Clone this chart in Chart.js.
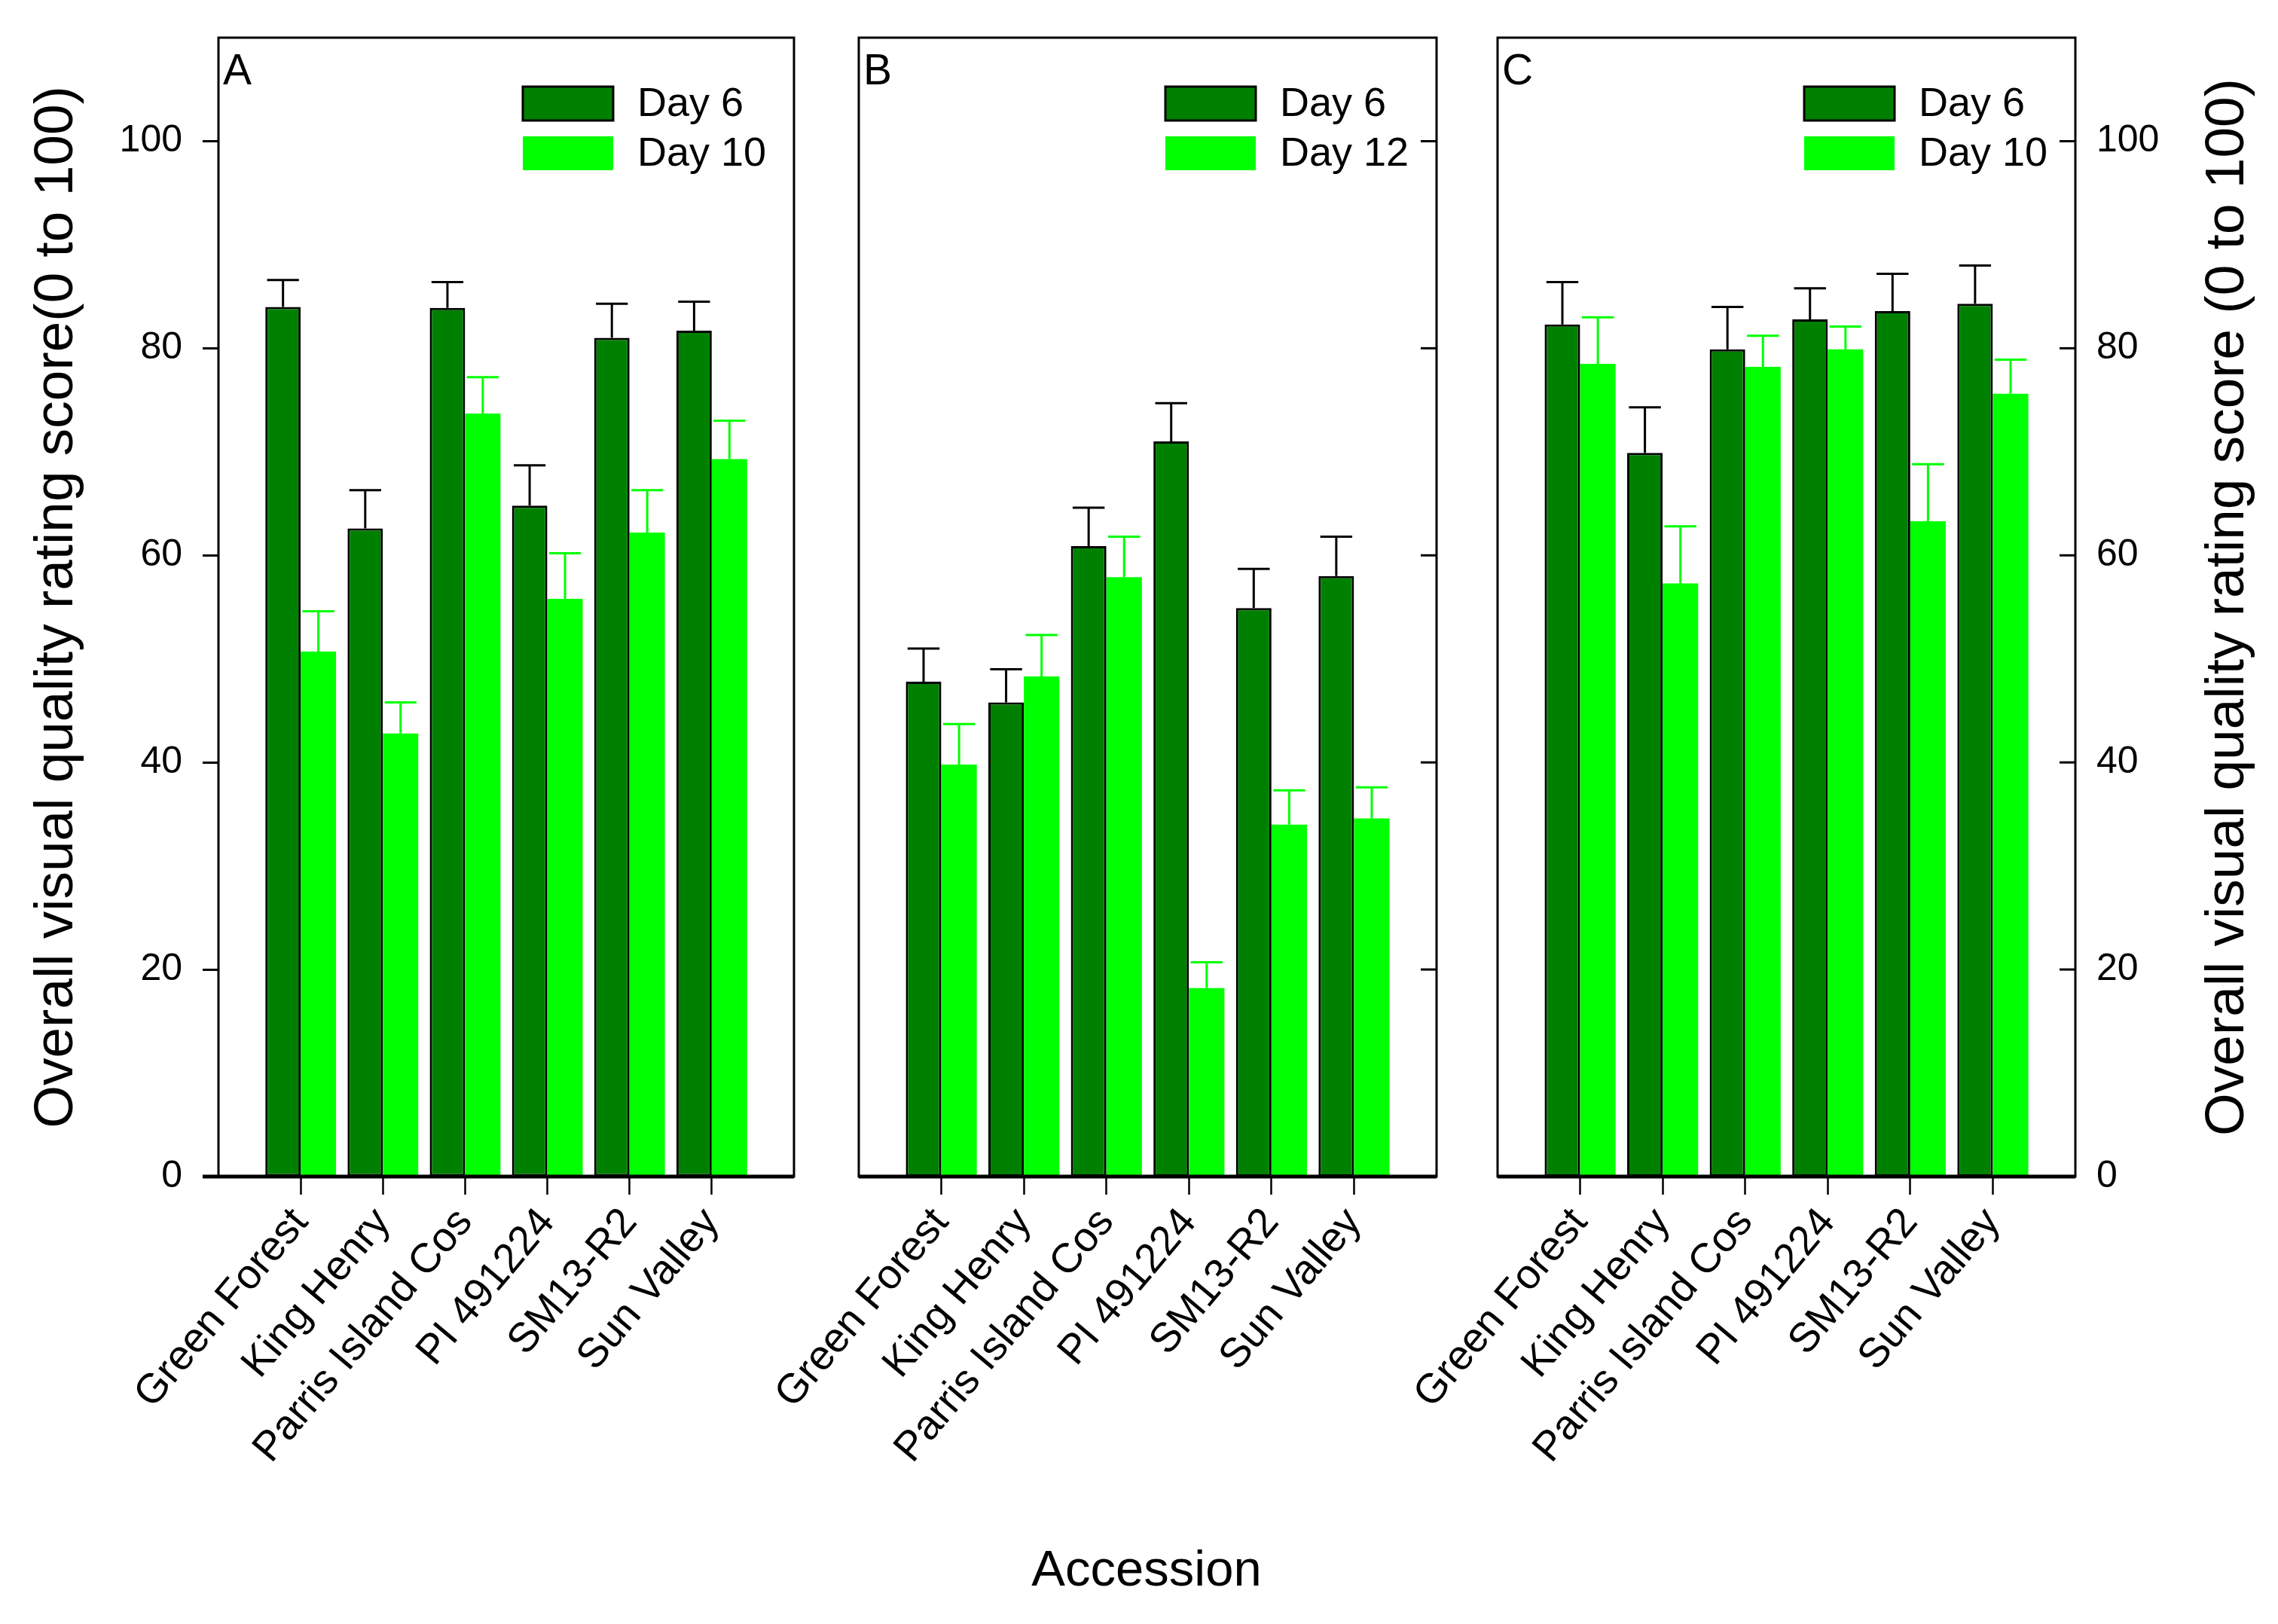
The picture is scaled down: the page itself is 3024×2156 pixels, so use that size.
<!DOCTYPE html>
<html>
<head>
<meta charset="utf-8">
<script src="https://cdn.jsdelivr.net/npm/chart.js@4.4.1/dist/chart.umd.min.js"></script>
<style>
  html, body { margin: 0; padding: 0; background: #fff; }
  #wrap { position: relative; width: 3024px; height: 2156px; overflow: hidden; }
  #wrap canvas { position: absolute; left: 0; top: 0; }
  #xtitle { position: absolute; left: 0; width: 3044px; top: 2048px; text-align: center;
            font: 67px 'Liberation Sans', Arial, sans-serif; line-height: 67px; color: #000; }
</style>
</head>
<body>
<div id="wrap">
  <canvas id="chartA" width="3024" height="2156"></canvas>
  <canvas id="chartB" width="3024" height="2156"></canvas>
  <canvas id="chartC" width="3024" height="2156"></canvas>
  <div id="xtitle">Accession</div>
</div>
<script>
const accessions = ['Green Forest', 'King Henry', 'Parris Island Cos', 'PI 491224', 'SM13-R2', 'Sun Valley'];
const yTicks = [0, 20, 40, 60, 80, 100];

// panel A
const aDay6 = [84.0, 62.6, 83.9, 64.8, 81.0, 81.7];
const aDay6Err = [2.6, 3.7, 2.5, 3.9, 3.3, 2.8];
const aDay10 = [50.7, 42.8, 73.7, 55.8, 62.2, 69.3];
const aDay10Err = [3.9, 3.0, 3.5, 4.4, 4.1, 3.7];

// panel B
const bDay6 = [47.8, 45.8, 60.9, 71.0, 54.9, 58.0];
const bDay6Err = [3.2, 3.2, 3.7, 3.7, 3.8, 3.8];
const bDay12 = [39.8, 48.3, 57.9, 18.2, 34.0, 34.6];
const bDay12Err = [3.9, 4.0, 3.9, 2.5, 3.3, 3.0];

// panel C
const cDay6 = [82.3, 69.9, 79.9, 82.8, 83.6, 84.3];
const cDay6Err = [4.1, 4.4, 4.1, 3.0, 3.6, 3.7];
const cDay10 = [78.5, 57.3, 78.2, 79.9, 63.3, 75.6];
const cDay10Err = [4.5, 5.5, 3.0, 2.2, 5.5, 3.3];

const FONT = "'Liberation Sans', Arial, sans-serif";
const DARK = '#008000';
const LIGHT = '#00ff00';
const YTITLE_L = 'Overall visual quality rating score(0 to 100)';
const YTITLE_R = 'Overall visual quality rating score (0 to 100)';

Chart.defaults.font.family = FONT;
Chart.defaults.color = '#000';

// blank slot at each end so the groups sit at 1..6 on a 0..7 axis
const xLabels = [''].concat(accessions, ['']);
const pad = arr => [null].concat(arr, [null]);

// frame, inner ticks, error bars, legend, panel letter
const panelDeco = {
  id: 'panelDeco',
  afterDatasetsDraw(chart) {
    const ctx = chart.ctx;
    const y = chart.scales.y;
    chart.data.datasets.forEach((ds, i) => {
      const meta = chart.getDatasetMeta(i);
      ctx.save();
      ctx.strokeStyle = ds.errColor;
      ctx.lineWidth = ds.errWidth;
      meta.data.forEach((bar, j) => {
        const v = ds.data[j];
        if (v === null) return;
        const { x, width } = bar.getProps(['x', 'width'], true);
        const yTop = y.getPixelForValue(v + ds.errors[j - 1]);
        const yBar = y.getPixelForValue(v);
        const cw = width * 0.9;
        ctx.beginPath();
        ctx.moveTo(x, yBar);
        ctx.lineTo(x, yTop);
        ctx.moveTo(x - cw / 2, yTop);
        ctx.lineTo(x + cw / 2, yTop);
        ctx.stroke();
      });
      ctx.restore();
    });
  },
  afterDraw(chart, args, opts) {
    const ctx = chart.ctx;
    const a = chart.chartArea;
    const y = chart.scales.y;
    ctx.save();
    ctx.strokeStyle = '#000';
    ctx.lineWidth = 3;
    ctx.strokeRect(a.left, a.top, a.right - a.left, a.bottom - a.top);
    ctx.lineWidth = 5;
    ctx.beginPath();
    ctx.moveTo(a.left - (opts.extendLeft || 0), a.bottom);
    ctx.lineTo(a.right, a.bottom);
    ctx.stroke();

    if (opts.innerRightTicks) {
      ctx.lineWidth = 3;
      yTicks.forEach(v => {
        const py = y.getPixelForValue(v);
        ctx.beginPath();
        ctx.moveTo(a.right - 21, py);
        ctx.lineTo(a.right, py);
        ctx.stroke();
      });
    }

    // legend
    const boxR = a.right - 240, boxW = 120, boxH = 45;
    ctx.font = '54px ' + FONT;
    ctx.textAlign = 'left';
    ctx.textBaseline = 'middle';
    chart.data.datasets.forEach((ds, i) => {
      const top = a.top + 65 + i * 66;
      ctx.fillStyle = ds.backgroundColor;
      ctx.fillRect(boxR - boxW, top, boxW, boxH);
      if (ds.borderWidth) {
        ctx.lineWidth = 3;
        ctx.strokeStyle = '#000';
        ctx.strokeRect(boxR - boxW, top, boxW, boxH);
      }
      ctx.fillStyle = '#000';
      ctx.fillText(ds.label, boxR + 32, top + boxH / 2 + 2);
    });

    // panel letter
    ctx.font = '57px ' + FONT;
    ctx.textBaseline = 'alphabetic';
    ctx.fillText(opts.letter, a.left + 6, a.top + 62);

    if (opts.rightTitle) {
      ctx.translate(chart.width - 66, (a.top + a.bottom) / 2);
      ctx.rotate(-Math.PI / 2);
      ctx.textAlign = 'center';
      ctx.textBaseline = 'middle';
      ctx.font = '73px ' + FONT;
      ctx.fillText(opts.rightTitle, 0, 0);
    }
    ctx.restore();
  }
};

function makeDatasets(label1, v1, e1, label2, v2, e2) {
  return [
    { label: label1, data: pad(v1), errors: e1, backgroundColor: DARK, borderColor: '#000',
      borderWidth: 3, borderSkipped: false, errColor: '#000', errWidth: 3 },
    { label: label2, data: pad(v2), errors: e2, backgroundColor: LIGHT, borderWidth: 0,
      errColor: LIGHT, errWidth: 3 }
  ];
}

function xScale() {
  return {
    type: 'category',
    offset: false,
    grid: {
      display: true, offset: false, drawOnChartArea: false, drawTicks: true,
      tickLength: 24, tickWidth: 2.5,
      tickColor: c => (c.index === 0 || c.index === xLabels.length - 1) ? 'rgba(0,0,0,0)' : '#000'
    },
    border: { display: false },
    ticks: { autoSkip: false, minRotation: 50, maxRotation: 50, padding: 6, color: '#000',
             font: { size: 55 } },
    afterFit: s => { s.height = 2156 - 1562; s.paddingLeft = 0; s.paddingRight = 0; }
  };
}

function makeChart(id, datasets, yOpts, padding, deco) {
  return new Chart(document.getElementById(id), {
    type: 'bar',
    data: { labels: xLabels, datasets: datasets },
    options: {
      responsive: false,
      animation: false,
      layout: { padding: padding },
      datasets: { bar: { categoryPercentage: 0.86, barPercentage: 1.0 } },
      scales: { x: xScale(), y: yOpts },
      plugins: { legend: { display: false }, tooltip: { enabled: false }, panelDeco: deco }
    },
    plugins: [panelDeco]
  });
}

const yBase = {
  min: 0, max: 110,
  afterBuildTicks: s => { s.ticks = yTicks.map(v => ({ value: v })); },
  border: { display: false }
};

makeChart('chartA',
  makeDatasets('Day 6', aDay6, aDay6Err, 'Day 10', aDay10, aDay10Err),
  Object.assign({}, yBase, {
    position: 'left',
    grid: { display: true, drawOnChartArea: false, drawTicks: true, tickLength: 21, tickWidth: 3, tickColor: '#000' },
    ticks: { padding: 27, color: '#000', font: { size: 50 } },
    title: { display: true, text: YTITLE_L, color: '#000', font: { size: 73 }, padding: { top: 32, bottom: 0 } },
    afterFit: s => { s.width = 290; s.paddingTop = 0; s.paddingBottom = 0; }
  }),
  { left: 0, right: 3024 - 1054, top: 50, bottom: 0 },
  { letter: 'A', extendLeft: 21 });

makeChart('chartB',
  makeDatasets('Day 6', bDay6, bDay6Err, 'Day 12', bDay12, bDay12Err),
  Object.assign({}, yBase, { display: false }),
  { left: 1140, right: 3024 - 1907, top: 50, bottom: 0 },
  { letter: 'B', innerRightTicks: true });

makeChart('chartC',
  makeDatasets('Day 6', cDay6, cDay6Err, 'Day 10', cDay10, cDay10Err),
  Object.assign({}, yBase, {
    position: 'right',
    grid: { display: false },
    ticks: { padding: 20, color: '#000', font: { size: 50 } },
    afterFit: s => { s.width = 3024 - 2755; s.paddingTop = 0; s.paddingBottom = 0; }
  }),
  { left: 1988, right: 0, top: 50, bottom: 0 },
  { letter: 'C', innerRightTicks: true, rightTitle: YTITLE_R });
</script>
</body>
</html>
